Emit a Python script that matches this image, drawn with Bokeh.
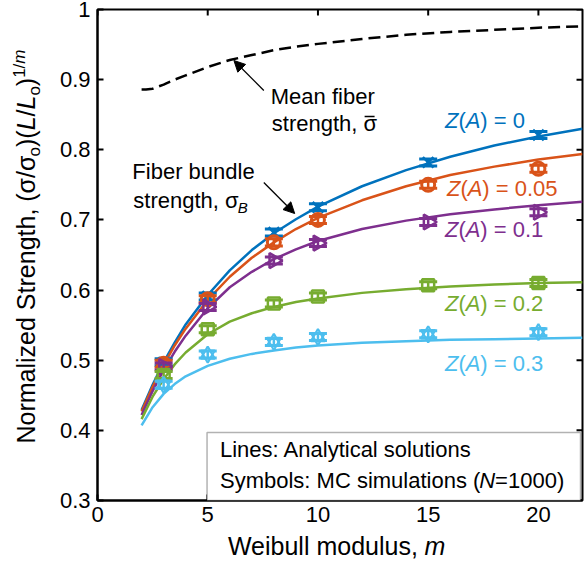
import math
from bokeh.plotting import figure
from bokeh.layouts import row, column
from bokeh.models import FixedTicker, Range1d, Label, Arrow, NormalHead, BoxAnnotation
from bokeh.embed import file_html
from bokeh.resources import INLINE

# ---------------- data ----------------
m_line = [2, 2.5, 3, 3.5, 4, 5, 6, 7, 8, 9, 10, 12, 14, 16, 18, 20, 22]
line_z000 = [0.429, 0.465, 0.497, 0.525, 0.551, 0.593, 0.628, 0.657, 0.681, 0.701, 0.719, 0.748, 0.771, 0.790, 0.806, 0.819, 0.830]
line_z005 = [0.427, 0.462, 0.493, 0.521, 0.545, 0.586, 0.619, 0.646, 0.668, 0.687, 0.703, 0.728, 0.748, 0.764, 0.776, 0.786, 0.794]
line_z010 = [0.422, 0.456, 0.486, 0.512, 0.535, 0.574, 0.604, 0.626, 0.644, 0.658, 0.670, 0.687, 0.699, 0.708, 0.715, 0.721, 0.726]
line_z020 = [0.416, 0.448, 0.473, 0.494, 0.511, 0.537, 0.555, 0.567, 0.576, 0.583, 0.588, 0.596, 0.601, 0.605, 0.608, 0.610, 0.611]
line_z030 = [0.407, 0.433, 0.452, 0.466, 0.477, 0.492, 0.502, 0.509, 0.514, 0.518, 0.521, 0.525, 0.527, 0.529, 0.530, 0.531, 0.532]

m_mean = [2, 2.2, 2.5, 3, 3.5, 4, 5, 6, 7, 8, 9, 10, 12, 14, 16, 18, 20, 22]
mean_strength = [0.886, 0.886, 0.887, 0.893, 0.900, 0.906, 0.918, 0.928, 0.935, 0.942, 0.947, 0.951, 0.958, 0.964, 0.968, 0.971, 0.974, 0.976]

m_mc = [3, 5, 8, 10, 15, 20]
mc_z000 = [0.497, 0.591, 0.682, 0.718, 0.782, 0.821]
mc_z005 = [0.495, 0.587, 0.668, 0.700, 0.750, 0.773]
mc_z010 = [0.491, 0.576, 0.642, 0.667, 0.697, 0.711]
mc_z020 = [0.479, 0.544, 0.581, 0.591, 0.607, 0.610]
mc_z030 = [0.465, 0.508, 0.526, 0.533, 0.537, 0.540]
mc_err = [0.005, 0.005, 0.005, 0.005, 0.005, 0.005]

z_labels = ["0", "0.05", "0.1", "0.2", "0.3"]
x_ticks = [0, 5, 10, 15, 20]
y_ticks = [0.3, 0.4, 0.5, 0.6, 0.7, 0.8, 0.9, 1.0]

# ---------------- layout (canvas pixels) ----------------
W, H = 584, 562
LW = 56            # left strip for the y title
BH = 30            # bottom strip for the x title
BL, BR, BT, BB = 95, 2, 9, 62   # frame margins measured on the whole canvas
FW = W - BL - BR
FH = H - BT - BB
X0, X1 = 0.0, 22.0
Y0, Y1 = 0.3, 1.0
MID = 0.3465       # distance (in em) from the alphabetic baseline up to the text-box middle


def px2x(px):
    return X0 + (px - BL) * (X1 - X0) / FW


def px2y(py):
    return Y0 + (H - BB - py) * (Y1 - Y0) / FH


def dx(px):
    return px * (X1 - X0) / FW


def dy(px):
    return px * (Y1 - Y0) / FH


FONT = "Liberation Sans"
WID = {'N': 722, 'o': 556, 'r': 333, 'm': 833, 'a': 556, 'l': 222, 'i': 222, 'z': 500, 'e': 556,
       'd': 556, ' ': 278, 'S': 667, 't': 278, 'n': 556, 'g': 556, 'h': 556, ',': 278, '(': 333,
       ')': 333, 'σ': 600, '/': 278, 'L': 556, '1': 556, 'W': 944, 'b': 556, 'u': 556, 's': 500,
       'Z': 611, 'A': 667, '=': 584, '0': 556, '.': 278, '5': 556, '2': 556, '3': 556, 'y': 500,
       ':': 278, 'M': 833, 'C': 722, 'B': 667, 'F': 611, 'c': 500, 'f': 278}


def tw(txt, size):
    return sum(WID.get(c, 556) for c in txt) * size / 1000.0


def blank_fig(w, h, xr, yr, bl=0, br=0, bt=0, bb=0):
    f = figure(width=w, height=h, x_range=Range1d(*xr), y_range=Range1d(*yr),
               output_backend="svg", toolbar_location=None,
               x_axis_location=None, y_axis_location=None,
               min_border_left=bl, min_border_right=br, min_border_top=bt, min_border_bottom=bb)
    f.outline_line_color = None
    f.background_fill_color = "white"
    f.border_fill_color = "white"
    f.grid.visible = False
    return f


# ---------------- main plot ----------------
p = figure(width=W - LW, height=H - BH, x_range=Range1d(X0, X1), y_range=Range1d(Y0, Y1),
           output_backend="svg", toolbar_location=None,
           min_border_left=BL - LW, min_border_right=BR, min_border_top=BT, min_border_bottom=BB - BH)
p.xgrid.visible = False
p.ygrid.visible = False
p.outline_line_color = "black"
p.outline_line_width = 2
p.background_fill_color = "white"
p.border_fill_color = "white"


def style_axis(ax, ticks, standoff):
    ax.ticker = FixedTicker(ticks=ticks)
    ax.major_tick_in = 6
    ax.major_tick_out = 0
    ax.minor_tick_in = 0
    ax.minor_tick_out = 0
    ax.axis_line_width = 2
    ax.axis_line_color = "black"
    ax.major_tick_line_width = 2
    ax.major_tick_line_color = "black"
    ax.major_label_text_font = FONT
    ax.major_label_text_color = "black"
    ax.major_label_text_font_size = "22px"
    ax.major_label_standoff = standoff


style_axis(p.xaxis[0], x_ticks, 6)
style_axis(p.yaxis[0], y_ticks, 7)
p.yaxis[0].major_label_overrides = {1: "1"}

# tick marks on the top and right edges of the box (no labels)
p.segment(x_ticks, [Y1] * len(x_ticks), x_ticks, [Y1 - dy(6)] * len(x_ticks),
          line_color="black", line_width=2)
p.segment([X1] * len(y_ticks), y_ticks, [X1 - dx(6)] * len(y_ticks), y_ticks,
          line_color="black", line_width=2)

colors = ["#0072BD", "#D95319", "#7E2F8E", "#77AC30", "#4DBEEE"]
lines = [line_z000, line_z005, line_z010, line_z020, line_z030]
mcs = [mc_z000, mc_z005, mc_z010, mc_z020, mc_z030]

# mean fiber strength
p.line(m_mean, mean_strength, line_color="black", line_width=2.5, line_dash="12 6")

for ys, c in zip(lines, colors):
    p.line(m_line, ys, line_color=c, line_width=2.5)

for k, (ys, c) in enumerate(zip(mcs, colors)):
    lo = [y - e for y, e in zip(ys, mc_err)]
    hi = [y + e for y, e in zip(ys, mc_err)]
    p.segment(m_mc, lo, m_mc, hi, line_color=c, line_width=2.5)
    p.scatter(m_mc, lo, marker="dash", size=18, line_color=c, line_width=3)
    p.scatter(m_mc, hi, marker="dash", size=18, line_color=c, line_width=3)
    if k == 0:
        p.scatter(m_mc, ys, marker="x", size=15, line_color=c, line_width=2.5)
    elif k == 1:
        p.scatter(m_mc, ys, marker="circle", size=13, line_color=c, fill_color=None, line_width=3)
    elif k == 2:
        p.scatter(m_mc, ys, marker="triangle", size=15, angle=-math.pi / 2, line_color=c,
                  fill_color=None, line_width=2.5)
    elif k == 3:
        p.scatter(m_mc, ys, marker="square", size=12, line_color=c, fill_color=None, line_width=2.5)
    else:
        p.scatter(m_mc, ys, marker="triangle", size=14, line_color=c, fill_color=None, line_width=2.2)
        p.scatter(m_mc, ys, marker="inverted_triangle", size=14, line_color=c, fill_color=None, line_width=2.2)


def add_runs(fig, runs, x_px, y_px, conv_x, conv_y, color="black", vertical=False):
    """Place text runs; (x_px, y_px) is the start of the alphabetic baseline in canvas pixels."""
    pos = 0.0
    for txt, style, size, shift in runs:
        off = MID * size
        if vertical:
            lab = Label(x=conv_x(x_px + shift - off), y=conv_y(y_px - pos), text=txt,
                        angle=math.pi / 2, text_font=FONT, text_font_style=style,
                        text_font_size=f"{size}px", text_color=color,
                        text_align="left", text_baseline="middle")
        else:
            lab = Label(x=conv_x(x_px + pos), y=conv_y(y_px + shift - off), text=txt,
                        text_font=FONT, text_font_style=style, text_font_size=f"{size}px",
                        text_color=color, text_align="left", text_baseline="middle")
        fig.add_layout(lab)
        pos += tw(txt, size)
    return pos


# Z(A) labels
z_pos = [(444, 128), (446, 196), (444, 237), (444, 311), (444, 371)]
for zl, c, (xp, yp) in zip(z_labels, colors, z_pos):
    add_runs(p, [("Z", "italic", 22, 0), ("(", "normal", 22, 0), ("A", "italic", 22, 0),
                 (") = " + zl, "normal", 22, 0)], xp, yp, px2x, px2y, c)

# annotations
add_runs(p, [("Mean fiber", "normal", 22, 0)], 269, 104, px2x, px2y)
w_str = add_runs(p, [("strength, σ", "normal", 22, 0)], 270, 131, px2x, px2y)
sig_x = 270 + w_str - tw("σ", 22)
p.segment([px2x(sig_x + 1.5)], [px2y(131 - 15)], [px2x(sig_x + 11.5)], [px2y(131 - 15)],
          line_color="black", line_width=1.4)
add_runs(p, [("Fiber bundle", "normal", 22, 0)], 130, 179, px2x, px2y)
add_runs(p, [("strength, σ", "normal", 22, 0), ("B", "italic", 15, 4)], 131, 208, px2x, px2y)

p.add_layout(Arrow(end=NormalHead(size=11, fill_color="black", line_color="black", line_width=1),
                   x_start=px2x(262), y_start=px2y(90), x_end=px2x(232), y_end=px2y(60),
                   line_color="black", line_width=1.3))
p.add_layout(Arrow(end=NormalHead(size=11, fill_color="black", line_color="black", line_width=1),
                   x_start=px2x(262), y_start=px2y(182), x_end=px2x(293), y_end=px2y(213),
                   line_color="black", line_width=1.3))

# info box
p.add_layout(BoxAnnotation(left=px2x(205), right=px2x(580), bottom=Y0, top=px2y(432),
                           fill_color="white", fill_alpha=1.0, line_color="black", line_width=1.5))
add_runs(p, [("Lines: Analytical solutions", "normal", 22, 0)], 218, 457, px2x, px2y)
add_runs(p, [("Symbols: MC simulations (", "normal", 22, 0), ("N", "italic", 22, 0),
             ("=1000)", "normal", 22, 0)], 218, 488, px2x, px2y)

# ---------------- y title strip (data units = canvas pixels) ----------------
lf = blank_fig(LW, H, (0, LW), (H, 0))
add_runs(lf, [("Normalized Strength, (σ/σ", "normal", 25, 0), ("o", "normal", 17, 5),
              (")(", "normal", 25, 0), ("L", "italic", 25, 0), ("/", "normal", 25, 0),
              ("L", "italic", 25, 0), ("o", "normal", 17, 5), (")", "normal", 25, 0),
              ("1/", "normal", 17, -10), ("m", "italic", 17, -10)],
         34.5, 443, lambda v: v, lambda v: v, vertical=True)

# ---------------- x title strip: same left/right margins as the main plot ----------------
bf = blank_fig(W - LW, BH, (BL, W - BR), (H, H - BH), bl=BL - LW, br=BR)
add_runs(bf, [("Weibull modulus, ", "normal", 25, 0), ("m", "italic", 25, 0)],
         226, 554.5, lambda v: v, lambda v: v)

layout = row(lf, column(p, bf, spacing=0), spacing=0)
open("out.html", "w").write(file_html(layout, INLINE))
